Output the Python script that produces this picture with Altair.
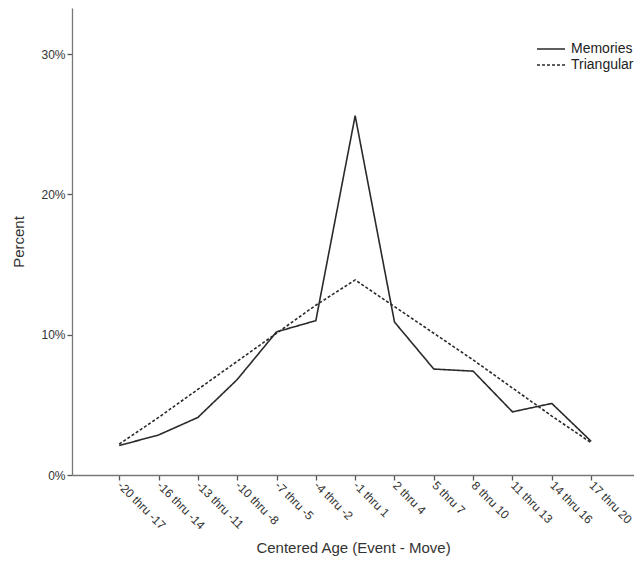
import json
import altair as alt
import pandas as pd

categories = ["-20 thru -17", "-16 thru -14", "-13 thru -11", "-10 thru -8",
              "-7 thru -5", "-4 thru -2", "-1 thru 1", "2 thru 4", "5 thru 7",
              "8 thru 10", "11 thru 13", "14 thru 16", "17 thru 20"]
memories = [2.1, 2.85, 4.1, 6.8, 10.2, 11.0, 25.6, 10.9, 7.55, 7.4, 4.5, 5.1, 2.4]
triangular = [2.2, 4.1, 6.1, 8.1, 10.1, 12.1, 13.9, 12.0, 10.1, 8.2, 6.2, 4.2, 2.3]
series_names = ["Memories", "Triangular"]

rows = []
for i, c in enumerate(categories):
    rows.append({"age": c, "idx": i, "series": series_names[0], "pct": memories[i] / 100})
    rows.append({"age": c, "idx": i, "series": series_names[1], "pct": triangular[i] / 100})
df = pd.DataFrame(rows)

font = "Liberation Sans"
label_expr = json.dumps(categories) + "[datum.value]"

chart = alt.Chart(df).mark_line(strokeWidth=1.6, color="#2a2a2a").encode(
    x=alt.X("idx:Q",
            scale=alt.Scale(domain=[-1.2, 13.09], nice=False, zero=False),
            axis=alt.Axis(title="Centered Age (Event - Move)", labelAngle=45,
                          labelAlign="left", labelBaseline="middle",
                          values=list(range(len(categories))), labelExpr=label_expr,
                          labelPadding=3, titlePadding=9, labelFlush=False,
                          labelOverlap=False, labelFontSize=12)),
    y=alt.Y("pct:Q", scale=alt.Scale(domain=[0, 0.3328], nice=False),
            axis=alt.Axis(title="Percent", format=".0%", values=[0, 0.1, 0.2, 0.3],
                          titlePadding=14, labelFontSize=12)),
    strokeDash=alt.StrokeDash("series:N",
                              scale=alt.Scale(domain=series_names, range=[[1, 0], [3, 2]]),
                              legend=alt.Legend(title=None, orient="none", legendX=471,
                                                legendY=33, symbolType="M-2,0H2",
                                                symbolSize=196, symbolStrokeWidth=1.6,
                                                symbolStrokeColor="#2a2a2a",
                                                labelOffset=12, padding=0,
                                                labelFontSize=14, labelColor="#222222",
                                                labelFont=font, rowPadding=1)),
    detail="series:N",
    order="idx:Q",
).properties(
    width=562, height=467,
    autosize=alt.AutoSizeParams(type="none"),
    padding={"left": 64, "top": 0, "right": 0, "bottom": 84},
).configure_view(stroke=None).configure_axis(
    grid=False, domainColor="#777777", tickColor="#555555", tickSize=5,
    labelFont=font, titleFont=font, titleFontSize=15,
    labelColor="#333333", titleColor="#333333", titleFontWeight="normal",
    domainWidth=1.3, tickWidth=1.3,
)

chart.save("out.html", embed_options={"renderer": "svg", "actions": False})
